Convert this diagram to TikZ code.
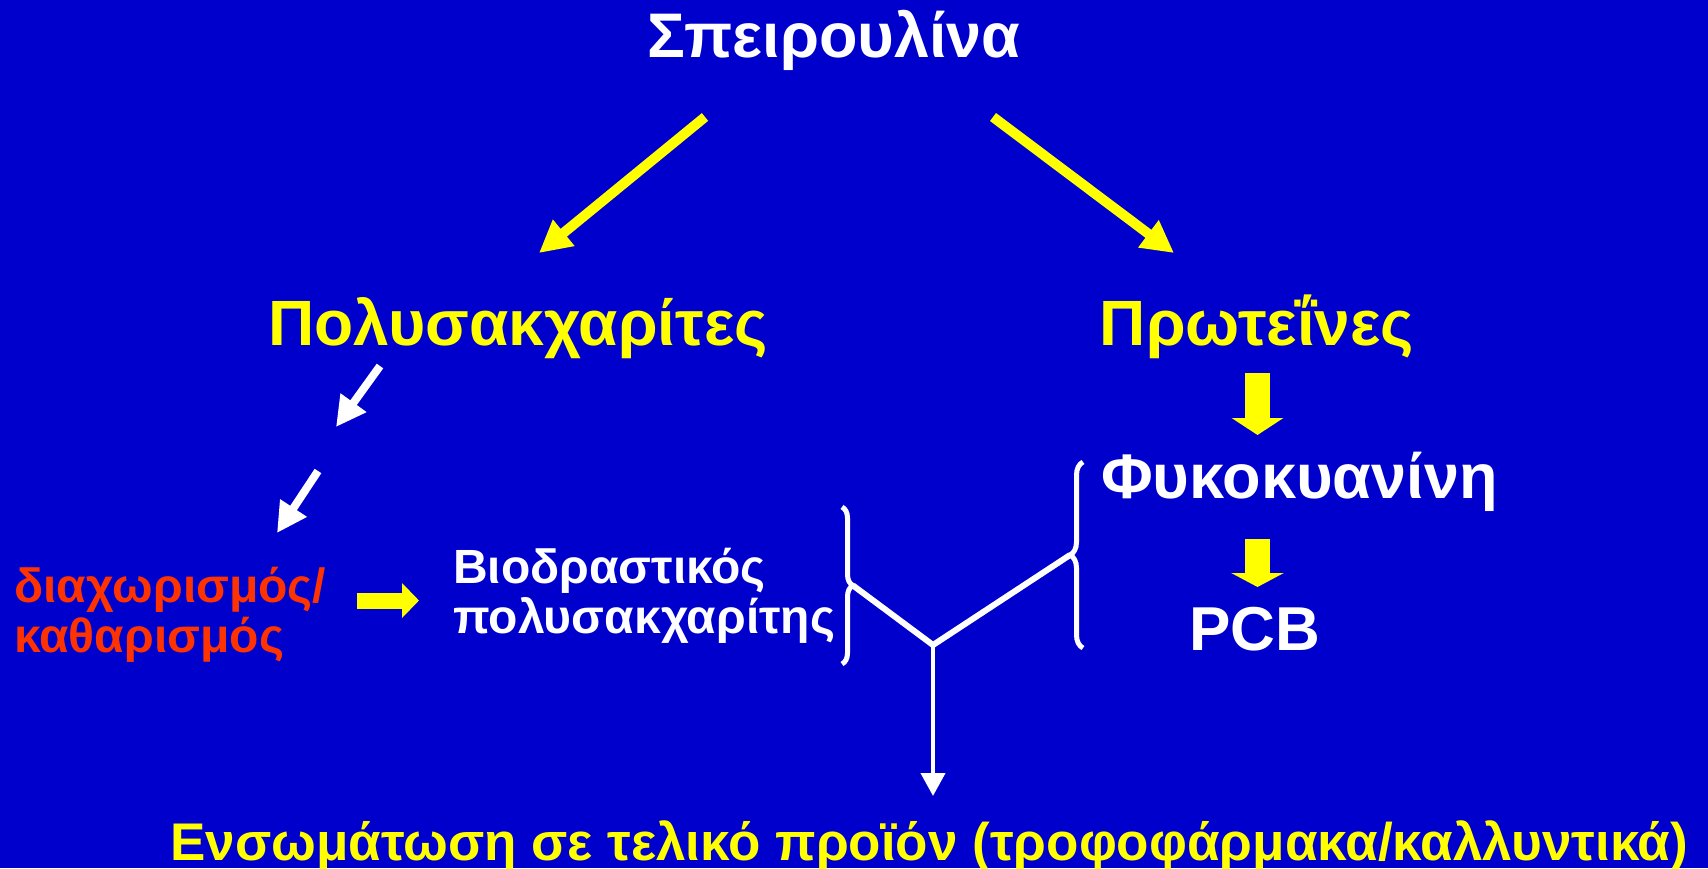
\documentclass[tikz,border=0pt]{standalone}
\usepackage{fontspec}
\setmainfont{Liberation Sans}
\usetikzlibrary{arrows.meta,decorations.pathreplacing}
\definecolor{bgblue}{RGB}{0,0,204}
\definecolor{hlyellow}{RGB}{255,255,0}
\definecolor{warnred}{RGB}{255,51,0}
\tikzset{
  lbl/.style={inner sep=0pt, font=\bfseries},
  thinarrow/.style={line width=10bp, -{Triangle[length=32bp,width=32bp]}},
  whitearrow/.style={white, line width=8bp, -{Triangle[length=30bp,width=30bp]}},
  bracestyle/.style={white, line width=5bp, decorate},
}
\begin{document}
\begin{tikzpicture}[x=1bp, y=-1bp]
\fill[bgblue] (0,0) rectangle (1708,868);
\useasboundingbox (0,0) rectangle (1708,868);

% titles
\node[lbl, white, anchor=base, font=\fontsize{63bp}{63bp}\selectfont\bfseries] (spir) at (834,57) {Σπειρουλίνα};
\node[lbl, hlyellow, anchor=base, font=\fontsize{64bp}{64bp}\selectfont\bfseries] (poly) at (518,345) {Πολυσακχαρίτες};
\node[lbl, hlyellow, anchor=base, font=\fontsize{64bp}{64bp}\selectfont\bfseries] (prot) at (1257,345) {Πρωτεΐνες};
\node[lbl, white, anchor=base west, font=\fontsize{63bp}{63bp}\selectfont\bfseries] (phyco) at (1101,498) {Φυκοκυανίνη};
\node[lbl, white, anchor=base, font=\fontsize{62bp}{62bp}\selectfont\bfseries] (pcb) at (1255,650) {PCB};
\node[lbl, warnred, anchor=base west, font=\fontsize{48bp}{48bp}\selectfont\bfseries] (sep1) at (14,602) {διαχωρισμός/};
\node[lbl, warnred, anchor=base west, font=\fontsize{48bp}{48bp}\selectfont\bfseries] (sep2) at (14,652) {καθαρισμός};
\node[lbl, white, anchor=base west, font=\fontsize{48bp}{48bp}\selectfont\bfseries] (bio1) at (453,583) {Βιοδραστικός};
\node[lbl, white, anchor=base west, font=\fontsize{48bp}{48bp}\selectfont\bfseries] (bio2) at (453,633) {πολυσακχαρίτης};
\node[lbl, hlyellow, anchor=base west, font=\fontsize{53bp}{53bp}\selectfont\bfseries] (final) at (170,860) {Ενσωμάτωση σε τελικό προϊόν (τροφοφάρμακα/καλλυντικά)};

% arrows from the top
\coordinate (la0) at (705,117);
\coordinate (la1) at (539,253);
\coordinate (ra0) at (993,117);
\coordinate (ra1) at (1174,253);
\draw[thinarrow, hlyellow] (la0) -- (la1);
\draw[thinarrow, hlyellow] (ra0) -- (ra1);

% white arrows under the polysaccharides
\coordinate (wa0) at (380,366);
\coordinate (wa1) at (336,427);
\coordinate (wb0) at (318,471);
\coordinate (wb1) at (277,533);
\draw[whitearrow] (wa0) -- (wa1);
\draw[whitearrow] (wb0) -- (wb1);

% block arrows
\coordinate (ya0) at (357,600.5);
\coordinate (ya1) at (419,600.5);
\draw[hlyellow, line width=16bp, -{Triangle[length=17bp,width=34bp]}] (ya0) -- (ya1);
\coordinate (yb0) at (1257.5,373);
\coordinate (yb1) at (1257.5,435);
\draw[hlyellow, line width=25bp, -{Triangle[length=17bp,width=51bp]}] (yb0) -- (yb1);
\coordinate (yc0) at (1257.5,539);
\coordinate (yc1) at (1257.5,587);
\draw[hlyellow, line width=25bp, -{Triangle[length=14bp,width=52bp]}] (yc0) -- (yc1);

% braces
\draw[bracestyle, decoration={brace, amplitude=11bp}] (842,507) -- (842,664);
\draw[bracestyle, decoration={brace, amplitude=13bp}] (1083,648) -- (1083,462);

% merging connector
\coordinate (lt) at (853,585.5);
\coordinate (rt) at (1070,555);
\coordinate (junc) at (933,645);
\coordinate (down) at (933,796);
\draw[white, line width=6bp, line join=miter] (lt) -- (junc) -- (rt);
\draw[white, line width=4bp, -{Triangle[length=23bp,width=24bp]}] (junc) -- (down);
\end{tikzpicture}
\end{document}
